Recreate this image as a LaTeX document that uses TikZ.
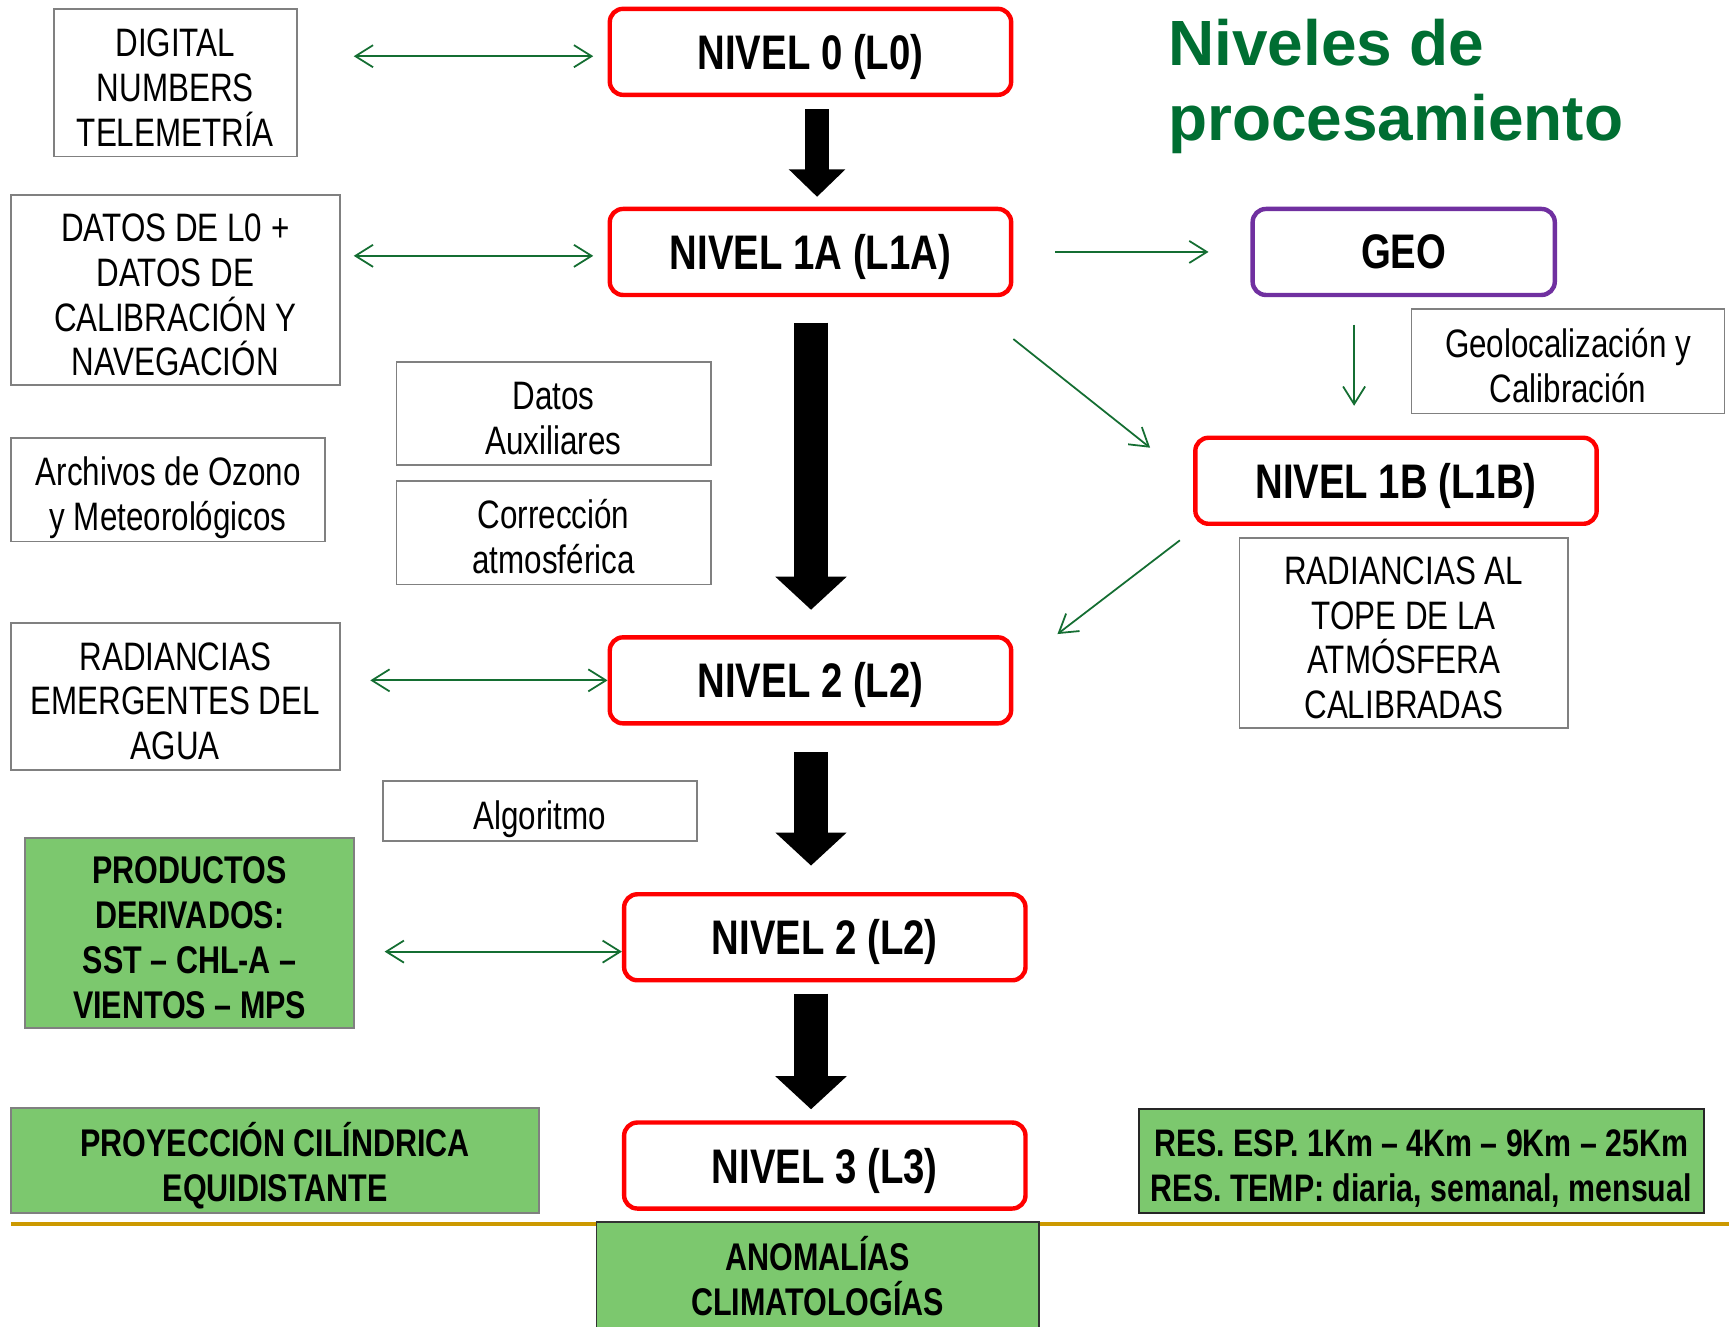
\documentclass[tikz,border=0pt]{standalone}
\usepackage{fontspec}
\setmainfont[FakeStretch=0.79]{Liberation Sans}
\newfontfamily\titlefont{Liberation Sans}
\usetikzlibrary{arrows.meta,calc}
\definecolor{lvred}{RGB}{255,0,0}
\definecolor{geopurple}{RGB}{112,48,160}
\definecolor{arrgreen}{RGB}{20,110,50}
\definecolor{boxgray}{RGB}{128,128,128}
\definecolor{fillgreen}{RGB}{124,200,110}
\definecolor{gold}{RGB}{204,153,0}
\definecolor{titlegreen}{RGB}{0,110,50}
% multi-line centred text whose rows sit exactly one \baselineskip apart,
% with a kern on top that sets where the text sits in its box
\newcommand\mlines[2][16.9pt]{{\let\\\cr\vbox{\kern#1\halign{\hfil\setbox0=\hbox{##}\ht0=0pt \dp0=0pt \box0\hfil\cr#2\crcr}}}}
\tikzset{
  gbox/.style={draw=boxgray, line width=0.8pt, inner sep=0pt,
    font=\fontsize{18}{20.3}\selectfont},
  greenbox/.style={draw=boxgray, line width=0.8pt, fill=fillgreen, inner sep=0pt,
    font=\bfseries\fontsize{17.5}{20.3}\selectfont},
  lvbox/.style={draw=lvred, line width=2pt, rounded corners=6pt, fill=white, inner sep=0pt, text depth=-1pt,
    minimum width=182pt, minimum height=39pt, font=\bfseries\fontsize{22}{26}\selectfont},
  garrow/.style={draw=arrgreen, line width=0.8pt, -{Straight Barb[length=8pt,width=10pt]}},
  gdarrow/.style={draw=arrgreen, line width=0.8pt, {Straight Barb[length=8pt,width=10pt]}-{Straight Barb[length=8pt,width=10pt]}},
  blkarrow/.style={draw=black, line width=15.5pt, -{Triangle[length=15pt,width=31.5pt]}},
  blkarrowsmall/.style={draw=black, line width=11pt, -{Triangle[length=12.5pt,width=25pt]}},
}
\begin{document}
\begin{tikzpicture}[x=0.5pt,y=-0.5pt]
\clip (0,0) rectangle (1568,1203);
\fill[white] (0,0) rectangle (1568,1203);

% gold line
\draw[gold, line width=1.5pt] (10,1110) -- (1568,1110);

% title
\node[anchor=north west, inner sep=0pt, align=left, text=titlegreen,
  font=\titlefont\bfseries\fontsize{29}{34}\selectfont] (title) at (1059,17)
  {Niveles de\\procesamiento};

% level boxes
\node[lvbox] (L0) at (735,47) {NIVEL 0 (L0)};
\node[lvbox] (L1A) at (735,228.5) {NIVEL 1A (L1A)};
\node[lvbox, draw=geopurple, minimum width=137pt] (GEO) at (1273,228.5) {GEO};
\node[lvbox] (L1B) at (1266,436) {NIVEL 1B (L1B)};
\node[lvbox] (L2) at (735,617) {NIVEL 2 (L2)};
\node[lvbox] (L2b) at (748,850) {NIVEL 2 (L2)};
\node[lvbox] (L3) at (748,1057) {NIVEL 3 (L3)};

% gray boxes
\node[gbox, minimum width=110pt, minimum height=67pt] (DIG) at (159,75)
  {\mlines{DIGITAL\\NUMBERS\\TELEMETRÍA}};
\node[gbox, minimum width=149pt, minimum height=86pt] (DAT) at (159,263)
  {\mlines{DATOS DE L0 +\\DATOS DE\\CALIBRACIÓN Y\\NAVEGACIÓN}};
\node[gbox, minimum width=142pt, minimum height=47.5pt] (GEOC) at (1422,327.5)
  {\mlines{Geolocalización y\\Calibración}};
\node[gbox, minimum width=149pt, minimum height=86pt] (TOA) at (1273,574)
  {\mlines{RADIANCIAS AL\\TOPE DE LA\\ATMÓSFERA\\CALIBRADAS}};
\node[gbox, minimum width=142.5pt, minimum height=47pt] (AUX) at (502,375)
  {\mlines{Datos\\Auxiliares}};
\node[gbox, minimum width=142.5pt, minimum height=47pt] (COR) at (502,483)
  {\mlines{Corrección\\atmosférica}};
\node[gbox, minimum width=142.5pt, minimum height=47pt] (OZO) at (152.5,444)
  {\mlines{Archivos de Ozono\\y Meteorológicos}};
\node[gbox, minimum width=149pt, minimum height=66.5pt] (RAD) at (159,631.5)
  {\mlines{RADIANCIAS\\EMERGENTES DEL\\AGUA}};
\node[gbox, minimum width=142.5pt, minimum height=27.5pt] (ALG) at (489.5,735.5)
  {\mlines{Algoritmo}};

% green boxes
\node[greenbox, minimum width=149pt, minimum height=86pt] (PROD) at (172,846)
  {\mlines[16.5pt]{PRODUCTOS\\DERIVADOS:\\SST – CHL-A –\\VIENTOS – MPS}};
\node[greenbox, minimum width=239.5pt, minimum height=47.5pt] (PROY) at (249.5,1052.5)
  {\mlines[16.5pt]{PROYECCIÓN CILÍNDRICA\\EQUIDISTANTE}};
\node[greenbox, draw=black!85, minimum width=256pt, minimum height=47pt,
  font=\bfseries\fontsize{17.4}{20.5}\selectfont] (RES) at (1289,1053)
  {\mlines[16.5pt]{RES. ESP. 1Km – 4Km – 9Km – 25Km\\RES. TEMP: diaria, semanal, mensual}};
\node[greenbox, draw=black!80, minimum width=200.5pt, minimum height=52pt] (ANOM) at (741.5,1160)
  {\mlines[12.5pt]{ANOMALÍAS\\CLIMATOLOGÍAS}};

% green connectors
\draw[gdarrow] ($(DIG.east|-L0.west)+(51,4)$) -- ($(L0.west)+(-13,4)$);
\draw[gdarrow] ($(DAT.east|-L1A.west)+(12,3.5)$) -- ($(L1A.west)+(-13,3.5)$);
\draw[garrow] ($(L1A.east)+(38,0)$) -- ($(GEO.west)+(-38,0)$);
\draw[garrow] ($(GEO.south)+(-45,25)$) -- ($(GEO.south|-L1B.north)+(-45,-27)$);
\draw[garrow] ($(L1A.south east)+(0,38)$) -- ($(L1B.north west)+(-39,11)$);
\draw[garrow] ($(L1B.south west)+(-12,13)$) -- ($(L2.north east)+(40,-1)$);
\draw[gdarrow] ($(RAD.east|-L2.west)+(27,0)$) -- (L2.west);
\draw[gdarrow] ($(PROD.east|-L2b.west)+(27,13)$) -- ($(L2b.west)+(0,13)$);

% black block arrows
\draw[blkarrowsmall] ($(L0.south)+(6,11)$) -- ($(L0.south|-L1A.north)+(6,-9)$);
\draw[blkarrow] ($(L1A.south)+(0.5,23)$) -- ($(L1A.south|-L2.north)+(0.5,-23)$);
\draw[blkarrow] ($(L2.south)+(0.5,24)$) -- ($(L2.south|-L2b.north)+(0.5,-24)$);
\draw[blkarrow] ($(L2b.south)+(-12.5,10)$) -- ($(L2b.south|-L3.north)+(-12.5,-10)$);
\end{tikzpicture}
\end{document}
